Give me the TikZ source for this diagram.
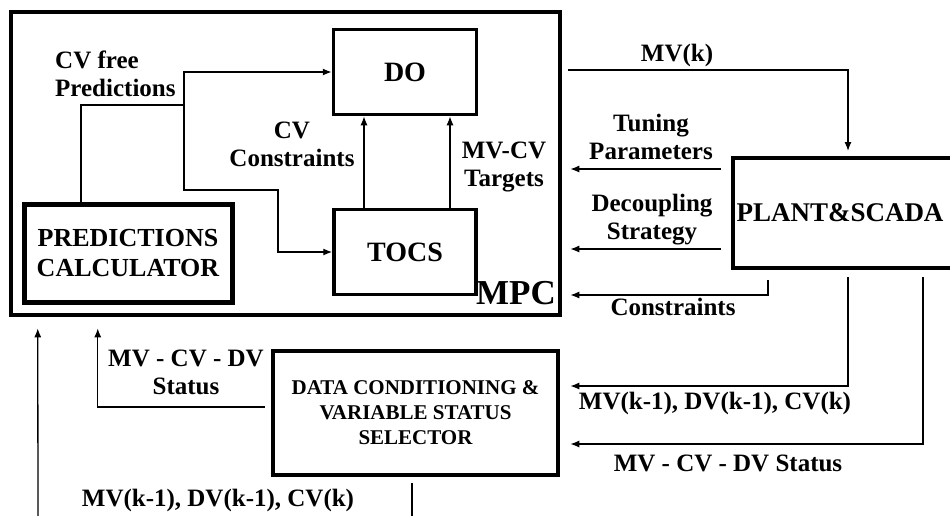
\documentclass[tikz,border=0pt]{standalone}
\usepackage{fontspec}
\setmainfont{Liberation Serif}
\usetikzlibrary{arrows.meta,calc}

\begin{document}
\begin{tikzpicture}[x=1pt,y=-1pt,
        box/.style={draw,line width=#1,inner sep=0pt,align=center},
        box/.default=4pt,
        big/.style={font=\fontsize{28}{32}\selectfont\bfseries},
        arr/.style={line width=1.3pt,-{Latex[length=9pt,width=7pt]}},
        lbl/.style={inner sep=0pt,align=center,font=\fontsize{25}{28}\selectfont\bfseries}]
        \clip (0,0) rectangle (950,515);

        \node[box=4.5pt,minimum width=549pt,minimum height=303pt] (mpc) at (285.5,163.5) {};
        \node[box=3.5pt,big,minimum width=143pt,minimum height=85pt] (do) at (405,72) {DO};
        \node[box=3.5pt,big,minimum width=142pt,minimum height=85pt] (tocs) at (405,252) {TOCS};
        \node[box=5pt,minimum width=208pt,minimum height=98pt,font=\fontsize{26}{30}\selectfont\bfseries] (pred) at (128,253) {PREDICTIONS\\CALCULATOR};
        \node[box,minimum width=230pt,minimum height=110pt,font=\fontsize{27}{32}\selectfont\bfseries] (plant) at (848,213) {PLANT\&SCADA\hspace{16pt}};
        \node[box=4.5pt,minimum width=285pt,minimum height=124pt,font=\fontsize{21}{25}\selectfont\bfseries] (data) at (415.5,413) {DATA CONDITIONING \&\\VARIABLE STATUS\\SELECTOR};
        \node[inner sep=0pt,font=\fontsize{35}{40}\selectfont\bfseries] (mpclbl) at (516,293) {MPC};

        \coordinate (split) at (184,105);
        \coordinate (bend) at (278,190);
        \coordinate (mvk) at (568,70);
        \coordinate (feedin) at (38,520);

        \draw[arr] ([xshift=-47pt]pred.north) |- (split) |- (do.west);
        \draw[arr] (split) |- (bend) |- (tocs.west);
        \draw[arr] ([xshift=-41pt]tocs.north) -- ([xshift=-41pt]do.south);
        \draw[arr] ([xshift=45pt]tocs.north) -- ([xshift=45pt]do.south);

        \draw[arr] (mvk) -| ([yshift=5pt]plant.north);
        \draw[arr] ($(plant.west)+(-10,-44)$) -- ($(mpc.east |- plant.west)+(8,-44)$);
        \draw[arr] ($(plant.west)+(-10,36)$) -- ($(mpc.east |- plant.west)+(8,36)$);
        \draw[arr] ($(plant.south west)+(37,10)$) |- ($(mpc.east |- plant.west)+(8,82)$);

        \draw[arr] ($(plant.south)+(0,7)$) |- ($(data.east)+(10,-27)$);
        \draw[arr] ($(plant.south)+(75,7)$) |- ($(data.east)+(10,31)$);
        \draw[arr] ($(data.west)+(-6,-6)$) -| ($(mpc.south west)+(89,11)$);
        \draw[arr] (feedin) -- ($(mpc.south west)+(29,11)$);
        \draw[line width=1.3pt] ($(data.south)+(-3.5,6)$) -- ++(0,45);

        \node[lbl,align=left,anchor=west] (cvfree) at (55,74) {CV free\\Predictions};
        \node[lbl] (cvcons) at (292,144) {CV\\Constraints};
        \node[lbl] (targets) at (504,167) {MV-CV\\Targets};
        \node[lbl] (mvklbl) at (677,55) {MV(k)};
        \node[lbl] (tuning) at (651,137) {Tuning\\Parameters};
        \node[lbl] (decoup) at (652,220) {Decoupling\\Strategy};
        \node[lbl] (conslbl) at (673,307) {Constraints};
        \node[lbl] (status) at (186,372) {MV - CV - DV\\Status};
        \node[lbl] (meas) at (715,403) {MV(k-1), DV(k-1), CV(k)};
        \node[lbl] (statlbl) at (728,463) {MV - CV - DV Status};
        \node[lbl] (measin) at (218,500) {MV(k-1), DV(k-1), CV(k)};
    \end{tikzpicture}
\end{document}
